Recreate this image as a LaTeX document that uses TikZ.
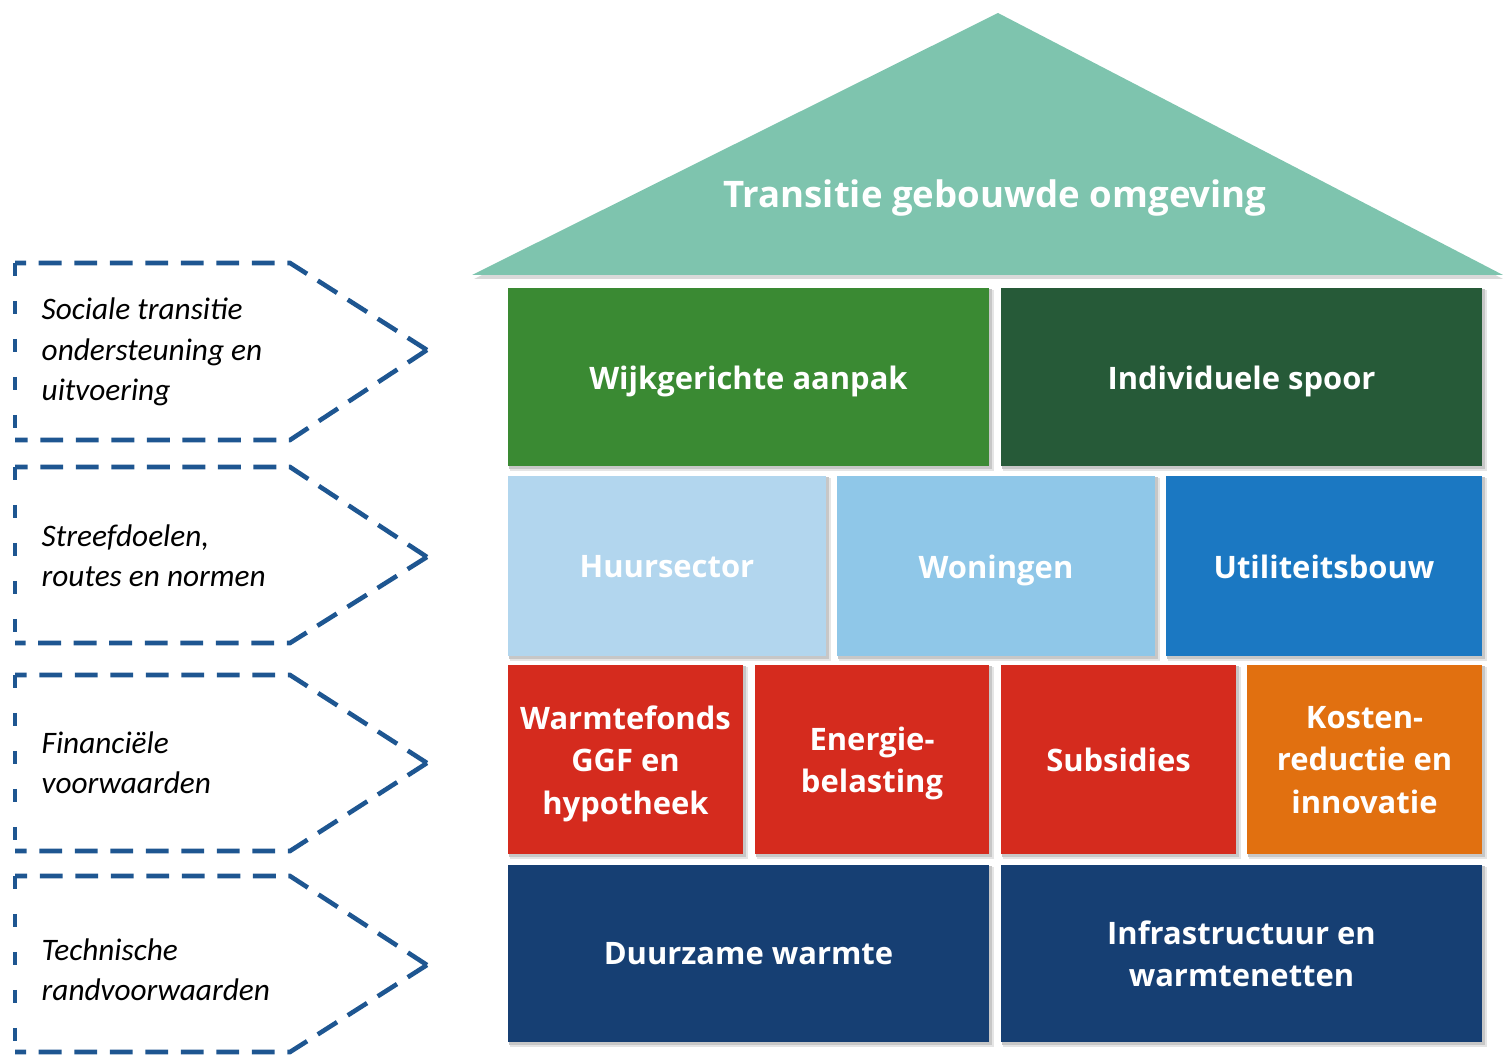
\documentclass[tikz,border=0pt]{standalone}
\usepackage{fontspec}
\setmainfont{Open Sans}
\newfontfamily\lblfont{Carlito}
\usetikzlibrary{calc}
\definecolor{roofc}{RGB}{126,196,174}
\definecolor{wijk}{RGB}{58,138,51}
\definecolor{indiv}{RGB}{38,90,56}
\definecolor{huur}{RGB}{178,214,238}
\definecolor{won}{RGB}{143,199,232}
\definecolor{util}{RGB}{27,120,194}
\definecolor{redc}{RGB}{213,43,30}
\definecolor{orac}{RGB}{225,112,16}
\definecolor{navy}{RGB}{22,63,115}
\definecolor{dashc}{RGB}{30,86,145}
\newcommand\hblock[7]{%
  \fill[black!10] (#2+2,#3+2) rectangle (#4+5,#5+5);
  \fill[black!22] (#2+1,#3+1) rectangle (#4+3,#5+3);
  \node[blk, fill=#6, minimum width={(#4-#2)*0.28453pt}, minimum height={(#5-#3-8)*0.28453pt}]
    (#1) at ({(#2+#4)/2},{(#3+#5)/2+4}) {\vphantom{Ag}#7\vphantom{Ag}};
  \fill[#6] (#2,#3) rectangle (#4,#3+9);}
\newcommand\dasharrow[3]{%
  \draw[dashline] (427,#3) -- (290,#1) -- (15,#1);
  \draw[dashline] (427,#3) -- (290,#2) -- (15,#2);
  \draw[dashside] (15,#1) -- (15,#2);}
\begin{document}
\begin{tikzpicture}[x=0.01cm,y=-0.01cm,
  blk/.style={inner sep=0pt, align=center, text=white,
    font=\bfseries\fontsize{8.8}{12.1}\selectfont},
  rooftext/.style={inner sep=0pt, text=white, font=\bfseries\fontsize{10.4}{12}\selectfont},
  lbl/.style={inner sep=0pt, align=left, anchor=west, text=black,
    font=\lblfont\itshape\fontsize{8.9}{11.5}\selectfont},
  dashline/.style={draw=dashc, line width=1.3pt, dash pattern=on 6.5pt off 3.6pt},
  dashside/.style={draw=dashc, line width=1.3pt, dash pattern=on 3.7pt off 7.1pt}]
\useasboundingbox (0,0) rectangle (1503,1061);
% roof
\fill[black!15] (474,279) -- (998,17) -- (1503,279) -- cycle;
\fill[roofc] (472,275) -- (998,13) -- (1503,275) -- cycle;
\node[rooftext] (roof) at (995,198) {Transitie gebouwde omgeving};
% row 1
\hblock{wijk}{508}{288}{989}{466}{wijk}{Wijkgerichte aanpak}
\hblock{indiv}{1001}{288}{1482}{466}{indiv}{Individuele spoor}
% row 2
\hblock{huur}{508}{476}{826}{656}{huur}{Huursector}
\hblock{won}{837}{476}{1155}{656}{won}{Woningen}
\hblock{util}{1166}{476}{1482}{656}{util}{Utiliteitsbouw}
% row 3
\hblock{warm}{508}{665}{743}{854}{redc}{Warmtefonds\\GGF en\\hypotheek}
\hblock{energ}{755}{665}{989}{854}{redc}{Energie-\\belasting}
\hblock{subs}{1001}{665}{1236}{854}{redc}{Subsidies}
\hblock{kost}{1247}{665}{1482}{854}{orac}{Kosten-\\reductie en\\innovatie}
% row 4
\hblock{duur}{508}{865}{989}{1042}{navy}{Duurzame warmte}
\hblock{infra}{1001}{865}{1482}{1042}{navy}{Infrastructuur en\\warmtenetten}
% left dashed arrows
\dasharrow{263}{440}{350}
\dasharrow{467}{643}{557}
\dasharrow{675}{851}{763}
\dasharrow{876}{1052}{965}
\node[lbl] (l1) at (41,352) {Sociale transitie\\ondersteuning en\\uitvoering};
\node[lbl] (l2) at (41,556) {Streefdoelen,\\routes en normen};
\node[lbl] (l3) at (41,763) {Financiële\\voorwaarden};
\node[lbl] (l4) at (41,970) {Technische\\randvoorwaarden};
\end{tikzpicture}
\end{document}
